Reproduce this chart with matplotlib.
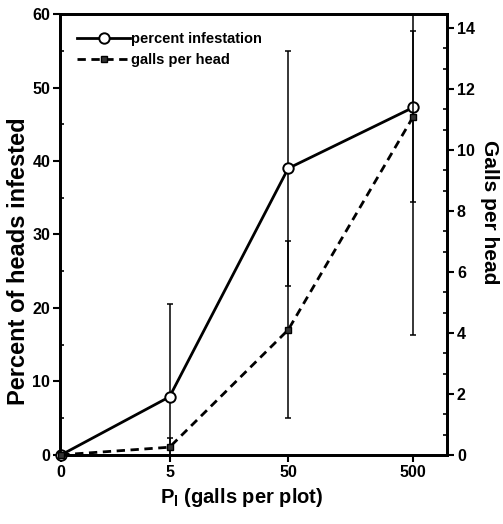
import numpy as np
import matplotlib
matplotlib.use('Agg')
import matplotlib.pyplot as plt
from matplotlib.ticker import FixedLocator, MultipleLocator

plt.rcParams['font.family'] = ['Liberation Sans', 'DejaVu Sans']
plt.rcParams['font.weight'] = 'bold'
plt.rcParams['mathtext.fontset'] = 'custom'
plt.rcParams['mathtext.rm'] = 'Liberation Sans:bold'
plt.rcParams['mathtext.bf'] = 'Liberation Sans:bold'

# data
p_initial = [0, 5, 50, 500]
pct_infested = [0, 7.9, 39.0, 47.3]
pct_err = [0, 12.6, 16.0, 31.0]
galls_head = [0, 0.25, 4.1, 11.1]
galls_err = [0, 0.3, 2.9, 2.8]
x_ticks = [0, 5, 50, 500]

# log-like axis that still shows 0
offset = 0.8
fwd = lambda x: np.log10(np.asarray(x, dtype=float) + offset)
inv = lambda y: 10 ** np.asarray(y, dtype=float) - offset

fig = plt.figure(figsize=(5.03, 5.24), dpi=100)
ax = fig.add_axes([0.119, 0.132, 0.770, 0.841])
ax2 = ax.twinx()

ax.set_xscale('function', functions=(fwd, inv))
ax.set_xlim(-0.02, 930)
ax.set_ylim(0, 60)
ax2.set_ylim(0, 14.46)

ax.errorbar(p_initial, pct_infested, yerr=pct_err, fmt='none', ecolor='black',
            elinewidth=1.1, capsize=2, capthick=1.1)
l1, = ax.plot(p_initial, pct_infested, '-', color='black', lw=2, marker='o',
              markersize=7.5, markerfacecolor='white', markeredgecolor='black',
              markeredgewidth=1.4, clip_on=False, zorder=5,
              label='percent infestation')

ax2.errorbar(p_initial, galls_head, yerr=galls_err, fmt='none', ecolor='black',
             elinewidth=1.1, capsize=2, capthick=1.1)
l2, = ax2.plot(p_initial, galls_head, '--', color='black', lw=2, dashes=(3, 2),
               marker='s', markersize=4.5, markerfacecolor='#333333',
               markeredgecolor='black', clip_on=False, zorder=5,
               label='galls per head')

ax.xaxis.set_major_locator(FixedLocator(x_ticks))
ax.set_xticklabels([str(v) for v in x_ticks])
ax.xaxis.set_minor_locator(FixedLocator([]))
ax.yaxis.set_major_locator(MultipleLocator(10))
ax.yaxis.set_minor_locator(MultipleLocator(5))
ax2.yaxis.set_major_locator(MultipleLocator(2))
ax2.yaxis.set_minor_locator(MultipleLocator(2 / 3))

for a in (ax, ax2):
    for s in a.spines.values():
        s.set_linewidth(2)
    a.tick_params(which='major', direction='out', length=5, width=1.5,
                  labelsize=11.5, pad=2)
    a.tick_params(which='minor', direction='in', length=3, width=1.2)

ax.set_ylabel('Percent of heads infested', fontsize=17, fontweight='bold',
              va='center')
ax.yaxis.set_label_coords(-0.108, 0.44)
ax2.set_ylabel('Galls per head', fontsize=15, fontweight='bold', rotation=270,
               va='center')
ax2.yaxis.set_label_coords(1.11, 0.55)
ax.set_xlabel(r'P$_\mathbf{l}$ (galls per plot)', fontsize=14.5, fontweight='bold')
ax.xaxis.set_label_coords(0.47, -0.07)

ax.legend(handles=[l1, l2], loc='upper left', frameon=False,
          handlelength=3.6, handletextpad=0.1, borderaxespad=0.8, labelspacing=0.5,
          prop={'weight': 'bold', 'size': 10.5})

fig.savefig('out.png', dpi=100)
